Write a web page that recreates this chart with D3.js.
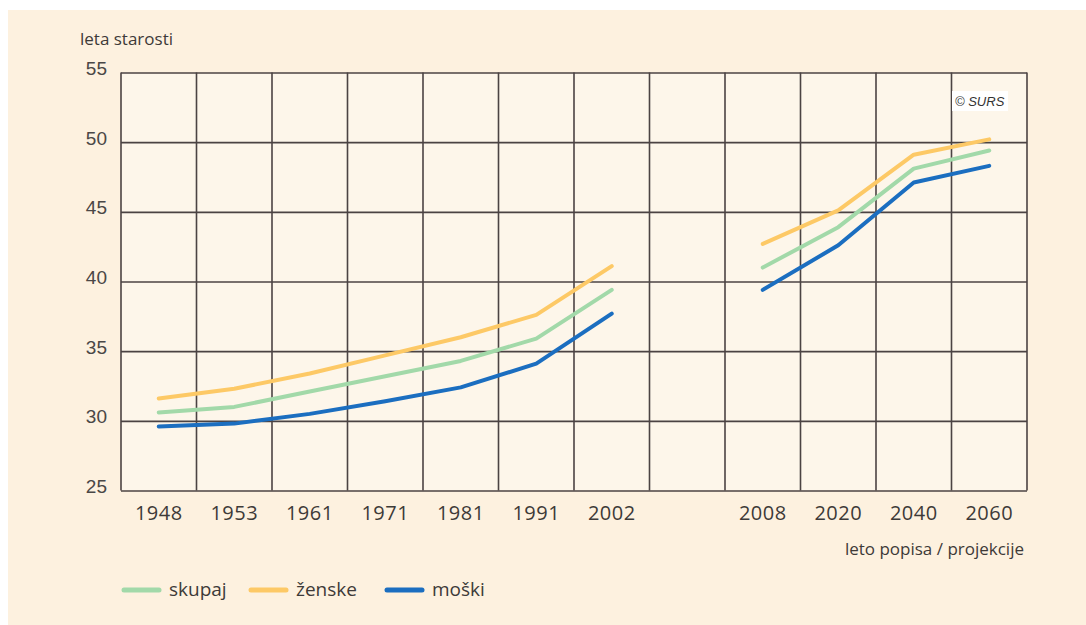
<!DOCTYPE html>
<html>
<head>
<meta charset="utf-8">
<script src="https://cdn.jsdelivr.net/npm/d3@7"></script>
<style>
  html, body { margin: 0; padding: 0; background: #ffffff; }
  svg { display: block; }
</style>
</head>
<body>
<svg id="chart" width="1086" height="625"></svg>
<script>
// ---- data ----
const categories = ["1948", "1953", "1961", "1971", "1981", "1991", "2002", "gap", "2008", "2020", "2040", "2060"];
const tickLabels = ["1948", "1953", "1961", "1971", "1981", "1991", "2002", "", "2008", "2020", "2040", "2060"];
const skupaj = [30.6, 31.0, 32.1, 33.2, 34.3, 35.9, 39.4, null, 41.0, 43.9, 48.1, 49.4];
const zenske = [31.6, 32.3, 33.4, 34.7, 36.0, 37.6, 41.1, null, 42.7, 45.1, 49.1, 50.2];
const moski  = [29.6, 29.8, 30.5, 31.4, 32.4, 34.1, 37.7, null, 39.4, 42.6, 47.1, 48.3];
const yTicks = [25, 30, 35, 40, 45, 50, 55];
const seriesNames = ["skupaj", "ženske", "moški"];

(function () {
// ---- layout ----
const svg = d3.select("#chart");
const W = 1086, H = 625;
const pL = 121, pR = 1027, pT = 72.5, pB = 490.5;
const textFont = "'Open Sans', 'Noto Sans', sans-serif";
const textColor = "#3d3a38";

svg.append("rect").attr("x", 8).attr("y", 10).attr("width", W - 8).attr("height", H - 10).attr("fill", "#fdf1df");
svg.append("rect").attr("x", pL).attr("y", pT).attr("width", pR - pL).attr("height", pB - pT).attr("fill", "#fdf6ea");

const x = d3.scaleBand().domain(categories).range([pL, pR]).paddingInner(0).paddingOuter(0);
const y = d3.scaleLinear().domain([25, 55]).range([pB, pT]);

const gridColor = "#4b4343";

// horizontal grid via axis
const yAxis = d3.axisLeft(y).tickValues(yTicks).tickSize(-(pR - pL)).tickFormat(d3.format("d"));
const gy = svg.append("g").attr("transform", `translate(${pL},0)`).call(yAxis);
gy.select(".domain").remove();
gy.selectAll(".tick line").attr("stroke", gridColor).attr("stroke-width", 1.6);
gy.selectAll(".tick text")
  .attr("x", -14)
  .attr("font-family", "'Liberation Sans', Arial, sans-serif")
  .attr("font-size", 19)
  .attr("fill", "#4a4746")
  .attr("dy", "0.1em");

// vertical grid lines at band boundaries
const bounds = categories.map(c => x(c)).concat([x(categories[categories.length - 1]) + x.bandwidth()]);
svg.append("g").selectAll("line").data(bounds).join("line")
  .attr("x1", d => d).attr("x2", d => d)
  .attr("y1", pT).attr("y2", pB)
  .attr("stroke", gridColor).attr("stroke-width", 1.6);

// x axis labels
const xAxis = d3.axisBottom(x).tickSize(0).tickFormat((d, i) => tickLabels[i]);
const gx = svg.append("g").attr("transform", `translate(0,${pB})`).call(xAxis);
gx.select(".domain").remove();
gx.selectAll(".tick text")
  .attr("y", 15.5)
  .attr("font-family", textFont)
  .attr("font-size", 20)
  .attr("letter-spacing", "0.5px")
  .attr("fill", textColor);

// copyright box
svg.append("rect").attr("x", 952).attr("y", 91).attr("width", 56).attr("height", 20).attr("fill", "#ffffff");
svg.append("text").attr("x", 955).attr("y", 106)
  .attr("font-family", "'Liberation Sans', Arial, sans-serif")
  .attr("font-size", 13).attr("font-style", "italic").attr("fill", "#333")
  .text("© SURS");

// lines
const colors = { "skupaj": "#a2d9a9", "ženske": "#fdc966", "moški": "#1b6ec0" };
const seriesData = { "skupaj": skupaj, "ženske": zenske, "moški": moski };
const line = d3.line()
  .defined(d => d.v != null)
  .x(d => x(d.c) + x.bandwidth() / 2)
  .y(d => y(d.v));

seriesNames.forEach(name => {
  const pts = categories.map((c, i) => ({ c, v: seriesData[name][i] }));
  svg.append("path").datum(pts)
    .attr("d", line)
    .attr("fill", "none")
    .attr("stroke", colors[name])
    .attr("stroke-width", 4)
    .attr("stroke-linejoin", "round")
    .attr("stroke-linecap", "round");
});

// axis titles
svg.append("text").attr("x", 80).attr("y", 45)
  .attr("font-family", textFont)
  .attr("font-size", 17).attr("fill", textColor)
  .text("leta starosti");
svg.append("text").attr("x", 1024).attr("y", 555).attr("text-anchor", "end")
  .attr("font-family", textFont)
  .attr("font-size", 17).attr("fill", textColor)
  .text("leto popisa / projekcije");

// legend
const legendX = [124, 251, 387];
const lg = svg.append("g");
seriesNames.forEach((name, i) => {
  lg.append("line")
    .attr("x1", legendX[i]).attr("x2", legendX[i] + 35)
    .attr("y1", 590).attr("y2", 590)
    .attr("stroke", colors[name]).attr("stroke-width", 5).attr("stroke-linecap", "round");
  lg.append("text").attr("x", legendX[i] + 45).attr("y", 596)
    .attr("font-family", textFont)
    .attr("font-size", 19).attr("fill", textColor)
    .text(name);
});
})();
</script>
</body>
</html>
